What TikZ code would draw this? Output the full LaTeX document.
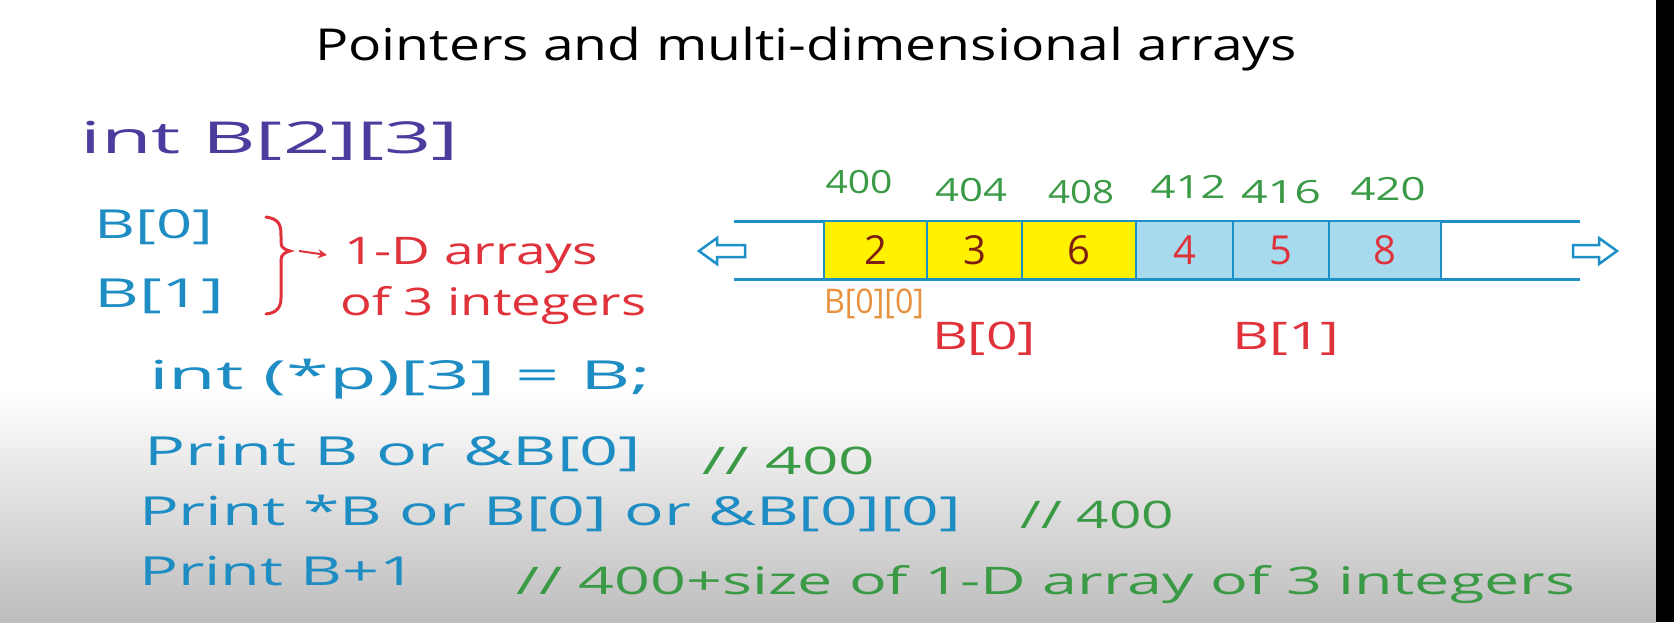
\documentclass[tikz,border=0pt]{standalone}
\usepackage{fontspec}
\setmainfont{Open Sans}
\usepackage{graphicx}
\usetikzlibrary{arrows.meta}
\definecolor{purp}{HTML}{4B3C9E}
\definecolor{tealb}{HTML}{1E8DC4}
\definecolor{redc}{HTML}{E0323A}
\definecolor{grn}{HTML}{3A9A45}
\definecolor{orng}{HTML}{E8913E}
\definecolor{dred}{HTML}{7E1E12}
\definecolor{cellyel}{HTML}{FFF200}
\definecolor{cellblu}{HTML}{A8DAEE}
\definecolor{linec}{HTML}{1E90C8}
\newcommand\fw[2]{\resizebox{#1pt}{\height}{#2}}
\newcommand\fsz[1]{\fontsize{#1}{#1}\selectfont}
\begin{document}
\begin{tikzpicture}[x=1pt,y=-1pt,
  txt/.style={anchor=west,inner sep=0pt},
  ctxt/.style={anchor=center,inner sep=0pt},
  cell/.style={draw=linec,line width=2.5pt,minimum height=58pt,inner sep=0pt,font=\fsz{40}},
  arrline/.style={draw=linec,line width=3pt},
  hollow/.style={draw=linec,line width=2.5pt,fill=white,line join=miter}]
\useasboundingbox (0,0) rectangle (1674,622);
\fill[white] (0,0) rectangle (1656,622);
\shade[top color=white,bottom color=black!26] (0,390) rectangle (1656,622);
\fill[black] (1656,0) rectangle (1674,622);

% title
\node[ctxt,font=\fsz{44}] (title) at (806,49) {\fw{982}{Pointers and multi-dimensional arrays}};

% left side
\node[txt,font=\fsz{44},text=purp] (decl) at (80,141) {\fw{379}{int B[2][3]}};
\node[txt,font=\fsz{40},text=tealb] (b0) at (94,227) {\fw{119}{B[0]}};
\node[txt,font=\fsz{40},text=tealb] (b1) at (94,296) {\fw{130}{B[1]}};
\draw[redc,line width=3pt,line cap=round]
  (266,217) .. controls (280,219) and (281,226) .. (281,236)
  -- (281,243) .. controls (281,248) and (286,250) .. (290,251)
  .. controls (286,252) and (281,254) .. (281,260)
  -- (281,298) .. controls (281,308) and (276,313) .. (266,314);
\coordinate (tip) at (299,251);
\node[txt,font=\fsz{38},text=redc] (oned) at (344,255) {\fw{254}{1-D arrays}};
\draw[redc,line width=2pt,-{Stealth[length=9pt,width=9pt]}] (tip) -- (oned.west -| 327,0);
\node[txt,font=\fsz{38},text=redc] (ofint) at (340,306) {\fw{306}{of 3 integers}};
\node[txt,font=\fsz{40},text=tealb] (ptr) at (149,379) {\fw{502}{int (*p)[3] = B;}};

\node[txt,font=\fsz{40},text=tealb] (p1) at (144,454) {\fw{497}{Print B or \&B[0]}};
\node[txt,font=\fsz{38},text=grn] (c1) at (702,461) {\fw{173}{// 400}};
\node[txt,font=\fsz{40},text=tealb] (p2) at (139,513) {\fw{822}{Print *B or B[0] or \&B[0][0]}};
\node[txt,font=\fsz{38},text=grn] (c2) at (1020,515) {\fw{154}{// 400}};
\node[txt,font=\fsz{40},text=tealb] (p3) at (139,571) {\fw{277}{Print B+1}};
\node[txt,font=\fsz{38},text=grn] (c3) at (516,585) {\fw{1059}{// 400+size of 1-D array of 3 integers}};

% array
\coordinate (tl) at (734,221);
\coordinate (tr) at (1580,221);
\coordinate (bl) at (734,279);
\coordinate (br) at (1580,279);
\draw[arrline] (tl) -- (tr);
\draw[arrline] (bl) -- (br);
\node[cell,fill=cellyel,text=dred,minimum width=103pt] (k1) at (875.5,250) {2};
\node[cell,fill=cellyel,text=dred,minimum width=95pt] (k2) at (974.5,250) {3};
\node[cell,fill=cellyel,text=dred,minimum width=114pt] (k3) at (1079,250) {6};
\node[cell,fill=cellblu,text=redc,minimum width=97pt] (k4) at (1184.5,250) {4};
\node[cell,fill=cellblu,text=redc,minimum width=96pt] (k5) at (1281,250) {5};
\node[cell,fill=cellblu,text=redc,minimum width=112pt] (k6) at (1385,250) {8};

\draw[hollow] (699,251) -- (717,238) -- (717,245) -- (745,245) -- (745,257) -- (717,257) -- (717,264) -- cycle;
\draw[hollow] (1617,251) -- (1599,238) -- (1599,245) -- (1573,245) -- (1573,257) -- (1599,257) -- (1599,264) -- cycle;

% addresses
\node[ctxt,font=\fsz{32},text=grn] (a1) at (859,182) {\fw{67}{400}};
\node[ctxt,font=\fsz{32},text=grn] (a2) at (971,190) {\fw{72}{404}};
\node[ctxt,font=\fsz{32},text=grn] (a3) at (1081,192) {\fw{66}{408}};
\node[ctxt,font=\fsz{32},text=grn] (a4) at (1188,187) {\fw{75}{412}};
\node[ctxt,font=\fsz{32},text=grn] (a5) at (1281,192) {\fw{80}{416}};
\node[ctxt,font=\fsz{32},text=grn] (a6) at (1388,189) {\fw{75}{420}};

% labels below
\node[ctxt,font=\fsz{34},text=orng] (l00) at (874,304) {\fw{100}{B[0][0]}};
\node[ctxt,font=\fsz{38},text=redc] (lb0) at (984,339) {\fw{104}{B[0]}};
\node[ctxt,font=\fsz{38},text=redc] (lb1) at (1286,339) {\fw{107}{B[1]}};
\end{tikzpicture}
\end{document}
